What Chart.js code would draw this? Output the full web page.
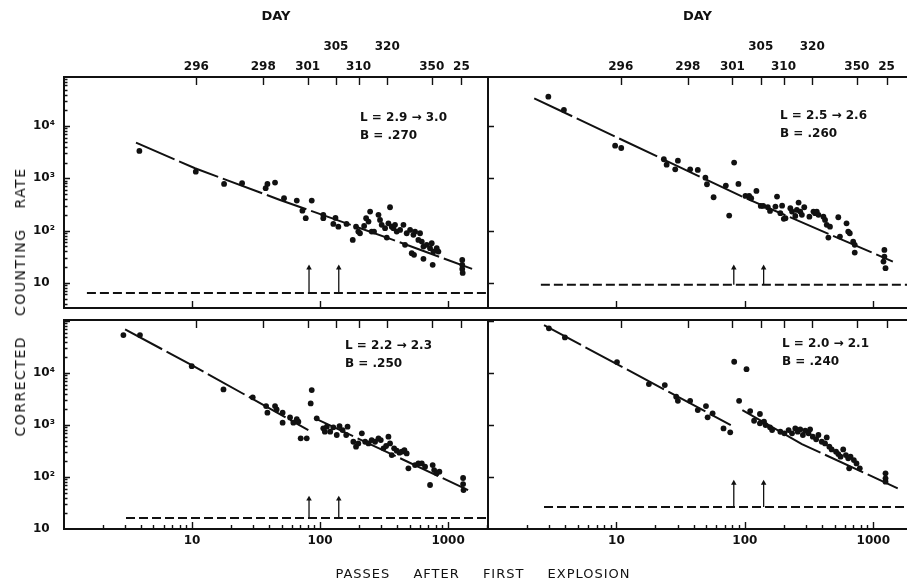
<!DOCTYPE html>
<html>
<head>
<meta charset="utf-8">
<script src="https://cdn.jsdelivr.net/npm/chart.js@4.4.1/dist/chart.umd.min.js"></script>
<style>
  body { margin: 0; background: #fff; }
  #page { position: relative; width: 911px; height: 584px; overflow: hidden;
          font-family: 'DejaVu Sans', sans-serif; color: #111; }
  #page canvas { position: absolute; left: 0; top: 0; }
  .note { position: absolute; white-space: nowrap; font-size: 12px; font-weight: bold; line-height: 18px; }
  #ytitle { position: absolute; left: 20px; top: 302px; white-space: nowrap;
            transform: translate(-50%, -50%) rotate(-90deg);
            font-size: 14px; letter-spacing: 1.5px; word-spacing: 14px; }
  #xtitle { position: absolute; left: 483px; top: 573px; white-space: nowrap;
            transform: translate(-50%, -50%);
            font-size: 13px; letter-spacing: 1px; word-spacing: 18px; }
</style>
</head>
<body>
<div id="page">
  <canvas id="tl" width="911" height="584"></canvas>
  <canvas id="tr" width="911" height="584"></canvas>
  <canvas id="bl" width="911" height="584"></canvas>
  <canvas id="br" width="911" height="584"></canvas>

  <div class="note" style="left:360px; top:108px;">L = 2.9 → 3.0<br>B = .270</div>
  <div class="note" style="left:780px; top:106px;">L = 2.5 → 2.6<br>B = .260</div>
  <div class="note" style="left:345px; top:336px;">L = 2.2 → 2.3<br>B = .250</div>
  <div class="note" style="left:782px; top:334px;">L = 2.0 → 2.1<br>B = .240</div>

  <div id="ytitle">CORRECTED COUNTING RATE</div>
  <div id="xtitle">PASSES AFTER FIRST EXPLOSION</div>
</div>

<script>
const INK = '#111';
const FONT = 'DejaVu Sans';

// day marks along the top edge, placed at the pass number where each day starts
const dayLabels = ['296', '298', '301', '305', '310', '320', '350', '25'];
const dayPasses = [10.8, 36, 80, 133, 200, 335, 745, 1270];
const dayUpperRow = [false, false, false, true, false, true, false, false];

const passTicks = [10, 100, 1000];
const rateTicks = [10, 100, 1000, 10000];
const rateLabels = ['10', '10²', '10³', '10⁴'];

// the two arrows sit on the background line
const arrowPasses = [82, 140];

// L = 2.9 -> 3.0
const tlPasses = [3.88, 10.7, 17.8, 24.6, 37.6, 38.8, 44.5, 52.3, 65.8, 72.8, 77.3, 86.1,
  106, 106, 132, 127, 139, 161, 180, 191, 199, 205, 221, 229, 239, 246, 253, 264,
  286, 294, 303, 322, 332, 352, 342, 363, 374, 385, 397, 422, 448, 461, 475, 505,
  536, 552, 520, 542, 586, 604, 623, 642, 642, 681, 723, 745, 768, 758, 815, 840,
  1290, 1290, 1290, 1300];
const tlRate = [3340, 1340, 782, 805, 647, 782, 828, 416, 375, 241, 173, 375,
  200, 173, 175, 134, 119, 134, 66.4, 119, 95.7, 89, 123, 173, 149, 231, 95.7, 95.7,
  200, 160, 129, 111, 73.5, 280, 138, 119, 111, 129, 95.7, 103, 129, 53.3, 89, 103,
  82.8, 95.7, 37, 34.3, 66.4, 89, 61.7, 49.4, 28.8, 53.3, 46, 57.3, 39.7, 22.1, 46, 39.7,
  27.5, 22.1, 18.5, 15.5];
const tlFit = [[[3.65, 4820], [10.55, 1560], [48.7, 386], [372, 66.4], [1540, 18.5]]];
const tlBackground = 6.4;
const tlBackgroundFrom = 1.51;
const tlArrowTip = 19.4;

// L = 2.5 -> 2.6
const trPasses = [2.95, 3.9, 9.77, 10.9, 23.4, 24.6, 28.7, 30.1, 37.5, 43, 49.3, 50.7,
  57.1, 71.1, 75.5, 82.5, 89.1, 101, 108, 112, 123, 133, 139, 151, 157, 173, 178, 189,
  195, 201, 207, 226, 233, 247, 254, 262, 270, 278, 290, 318, 342, 352, 363, 374,
  409, 421, 447, 434, 460, 534, 550, 619, 638, 656, 697, 717, 717, 1220, 1220, 1200, 1245];
const trRate = [36500, 20300, 4220, 3810, 2320, 1830, 1490, 2180, 1490, 1450, 1030, 771,
  435, 726, 194, 2000, 782, 460, 460, 416, 574, 297, 297, 280, 238, 288, 447, 215,
  300, 168, 173, 268, 231, 191, 249, 343, 231, 200, 280, 185, 231, 215, 231, 200,
  185, 160, 73.5, 129, 119, 180, 76.7, 138, 95.7, 89, 61.7, 53.3, 38, 42.7, 31.8, 25.5, 19.1];
const trFit = [[[2.29, 34000], [92.8, 460], [1420, 25.5]]];
const trBackground = 9.2;
const trBackgroundFrom = 2.58;
const trArrowTip = 19.4;

// L = 2.2 -> 2.3
const blPasses = [2.91, 3.92, 9.95, 17.6, 29.8, 37.9, 38.8, 44.5, 45.8, 51, 51, 58.3,
  61.9, 65.8, 67.7, 70.6, 78.7, 86.1, 84.5, 94.2, 106, 113, 109, 120, 127, 135, 142, 150,
  160, 164, 182, 191, 199, 212, 225, 239, 253, 269, 286, 298, 313, 328, 342, 352,
  363, 379, 397, 417, 435, 456, 475, 490, 552, 586, 623, 661, 723, 758, 778, 815,
  855, 1310, 1310, 1320];
const blRate = [53800, 53800, 13600, 4850, 3410, 2320, 1730, 2320, 2000, 1730, 1110, 1400,
  1110, 1300, 1160, 555, 555, 4710, 2610, 1350, 865, 929, 745, 745, 903, 643, 957, 801,
  643, 929, 477, 383, 444, 692, 477, 444, 515, 477, 555, 515, 356, 395, 597, 444,
  265, 356, 321, 294, 307, 330, 285, 147, 170, 183, 183, 158, 70.2, 170, 136, 118,
  127, 95.7, 73.3, 56.2];
const blFit = [[[3.0, 69000], [9.95, 14260], [81, 800]], [[91.4, 1345], [1433, 56]]];
const blBackground = 16.3;
const blBackgroundFrom = 3.05;
const blArrowTip = 37.8;

// L = 2.0 -> 2.1
const brPasses = [2.98, 3.97, 10.1, 17.9, 23.8, 29.2, 30.1, 37.5, 43, 49.8, 51.3, 56.1,
  68.2, 76.9, 82.6, 103, 90.2, 110, 118, 131, 131, 141, 145, 157, 163, 189, 203, 219,
  233, 247, 258, 270, 283, 295, 313, 322, 338, 359, 374, 397, 421, 434, 455, 474,
  513, 534, 556, 583, 612, 638, 665, 649, 706, 740, 785, 1245, 1245, 1245];
const brRate = [72600, 48600, 16300, 6140, 5880, 3500, 2930, 2930, 1940, 2320, 1410, 1680,
  863, 724, 16500, 11900, 2930, 1860, 1210, 1630, 1080, 1160, 1000, 903, 801, 743, 692, 801,
  692, 863, 745, 826, 643, 778, 692, 826, 597, 531, 643, 477, 444, 579, 383, 340,
  307, 277, 246, 340, 265, 229, 246, 147, 212, 183, 147, 118, 94.4, 81.3];
const brFit = [[[2.73, 83700], [77.7, 1000]], [[95.6, 1940], [278, 431], [1550, 60.7]]];
const brBackground = 26.5;
const brBackgroundFrom = 2.73;
const brArrowTip = 76.6;

// list of (value, isMajor) for log tick marks inside a range
function logMarks(min, max, withMinor) {
  const out = [];
  for (let e = Math.floor(Math.log10(min)); e <= Math.ceil(Math.log10(max)); e++) {
    const d = Math.pow(10, e);
    for (let m = 1; m <= 9; m++) {
      if (m > 1 && !withMinor) break;
      const v = m * d;
      if (v > min * 1.01 && v < max / 1.01) out.push([v, m === 1]);
    }
  }
  return out;
}

// box frame plus the tick marks pointing into the plot
const framePlugin = {
  id: 'frame',
  afterDraw(chart, args, o) {
    const { ctx, chartArea: a, scales } = chart;
    ctx.save();
    ctx.strokeStyle = INK;
    ctx.lineWidth = 2;
    ctx.beginPath();
    ctx.moveTo(a.right, a.top);
    ctx.lineTo(a.left, a.top);
    ctx.lineTo(a.left, a.bottom);
    ctx.lineTo(a.right, a.bottom);
    if (o.rightEdge) ctx.lineTo(a.right, a.top);
    ctx.stroke();

    ctx.lineWidth = 1.4;
    ctx.beginPath();
    logMarks(scales.y.min, scales.y.max, o.yMinor).forEach(([v, major]) => {
      const py = Math.round(scales.y.getPixelForValue(v)) + 0.5;
      ctx.moveTo(a.left, py);
      ctx.lineTo(a.left + (major ? 6 : 3.5), py);
    });
    logMarks(scales.x.min, scales.x.max, o.xMinor).forEach(([v, major]) => {
      const px = Math.round(scales.x.getPixelForValue(v)) + 0.5;
      ctx.moveTo(px, a.bottom);
      ctx.lineTo(px, a.bottom - (major ? 7 : 4));
    });
    dayPasses.forEach(v => {
      const px = Math.round(scales.x2.getPixelForValue(v)) + 0.5;
      ctx.moveTo(px, a.top);
      ctx.lineTo(px, a.top + 8);
    });
    ctx.stroke();
    ctx.restore();
  }
};

// pin an axis to a fixed thickness so every panel lines up
function fixSize(prop, px) {
  return s => {
    s[prop] = px;
    s.paddingLeft = s.paddingRight = s.paddingTop = s.paddingBottom = 0;
  };
}

const tickFont = { family: FONT, size: 12, weight: 'bold' };

function makePanel(id, p) {
  const datasets = [{
    type: 'scatter',
    data: p.passes.map((x, i) => ({ x: x, y: p.rate[i] })),
    pointRadius: 2.9,
    pointBackgroundColor: INK,
    pointBorderWidth: 0,
    order: 0
  }];
  p.fit.forEach(seg => datasets.push({
    type: 'line',
    data: seg.map(([x, y]) => ({ x: x, y: y })),
    borderColor: INK,
    borderWidth: 2,
    borderDash: [42, 5],
    pointRadius: 0,
    tension: 0,
    order: 1
  }));
  datasets.push({
    type: 'line',
    data: [{ x: p.backgroundFrom, y: p.background }, { x: p.xMax, y: p.background }],
    borderColor: INK,
    borderWidth: 2,
    borderDash: [9, 4],
    pointRadius: 0,
    order: 1
  });
  arrowPasses.forEach(x => datasets.push({
    type: 'line',
    data: [{ x: x, y: p.background }, { x: x, y: p.arrowTip }],
    borderColor: INK,
    borderWidth: 1.3,
    pointRadius: [0, 3.2],
    pointStyle: 'triangle',
    pointBackgroundColor: INK,
    pointBorderWidth: 0,
    order: 1
  }));

  const passesH = p.showPasses ? 24 : 0;
  const daysH = p.showDays ? 77 : 0;
  const rateW = p.showRate ? 31 : 0;
  const a = p.area;
  const padding = {
    left: a.left - rateW,
    top: a.top - daysH,
    right: 911 - a.right,
    bottom: 584 - a.bottom - passesH
  };

  new Chart(document.getElementById(id), {
    type: 'scatter',
    data: { datasets: datasets },
    plugins: [framePlugin],
    options: {
      responsive: false,
      animation: false,
      events: [],
      layout: { padding: padding },
      plugins: {
        legend: { display: false },
        tooltip: { enabled: false },
        frame: { rightEdge: p.rightEdge, yMinor: p.yMinor, xMinor: p.xMinor }
      },
      scales: {
        x: {
          type: 'logarithmic',
          position: 'bottom',
          min: 1,
          max: p.xMax,
          display: p.showPasses,
          grid: { display: false, drawTicks: false },
          border: { display: false },
          afterBuildTicks: s => { s.ticks = passTicks.map(v => ({ value: v })); },
          afterFit: fixSize('height', passesH),
          ticks: {
            autoSkip: false, minRotation: 0, maxRotation: 0, padding: 5,
            color: INK, font: tickFont,
            callback: v => String(v)
          }
        },
        x2: {
          type: 'logarithmic',
          position: 'top',
          min: 1,
          max: p.xMax,
          display: p.showDays,
          grid: { display: false, drawTicks: false },
          border: { display: false },
          afterBuildTicks: s => { s.ticks = dayPasses.map(v => ({ value: v })); },
          afterFit: fixSize('height', daysH),
          title: {
            display: true, text: 'DAY', color: INK,
            font: { family: FONT, size: 13, weight: 'bold' },
            padding: { top: 9, bottom: 0 }
          },
          ticks: {
            autoSkip: false, minRotation: 0, maxRotation: 0, padding: 0,
            color: INK, font: { family: FONT, size: 12, weight: 'bold', lineHeight: 1.65 },
            callback: (v, i) => dayUpperRow[i] ? [dayLabels[i], ''] : dayLabels[i]
          }
        },
        y: {
          type: 'logarithmic',
          position: 'left',
          min: p.yMin,
          max: p.yMax,
          display: p.showRate,
          grid: { display: false, drawTicks: false },
          border: { display: false },
          afterBuildTicks: s => { s.ticks = rateTicks.map(v => ({ value: v })); },
          afterFit: fixSize('width', rateW),
          ticks: {
            autoSkip: false, crossAlign: 'far', padding: 0,
            color: INK, font: tickFont,
            callback: (v, i) => rateLabels[i]
          }
        }
      }
    }
  });
}

makePanel('tl', {
  passes: tlPasses, rate: tlRate, fit: tlFit,
  background: tlBackground, backgroundFrom: tlBackgroundFrom, arrowTip: tlArrowTip,
  area: { left: 64, top: 77, right: 488, bottom: 308 },
  xMax: 2050, yMin: 3.3, yMax: 87000,
  showRate: true, showDays: true, showPasses: false,
  rightEdge: true, yMinor: true, xMinor: false
});
makePanel('tr', {
  passes: trPasses, rate: trRate, fit: trFit,
  background: trBackground, backgroundFrom: trBackgroundFrom, arrowTip: trArrowTip,
  area: { left: 488, top: 77, right: 911, bottom: 308 },
  xMax: 1830, yMin: 3.3, yMax: 87000,
  showRate: false, showDays: true, showPasses: false,
  rightEdge: false, yMinor: false, xMinor: false
});
makePanel('bl', {
  passes: blPasses, rate: blRate, fit: blFit,
  background: blBackground, backgroundFrom: blBackgroundFrom, arrowTip: blArrowTip,
  area: { left: 64, top: 320, right: 488, bottom: 529 },
  xMax: 2050, yMin: 10, yMax: 105000,
  showRate: true, showDays: false, showPasses: true,
  rightEdge: true, yMinor: true, xMinor: true
});
makePanel('br', {
  passes: brPasses, rate: brRate, fit: brFit,
  background: brBackground, backgroundFrom: brBackgroundFrom, arrowTip: brArrowTip,
  area: { left: 488, top: 320, right: 911, bottom: 529 },
  xMax: 1830, yMin: 10, yMax: 105000,
  showRate: false, showDays: false, showPasses: true,
  rightEdge: false, yMinor: false, xMinor: true
});
</script>
</body>
</html>
